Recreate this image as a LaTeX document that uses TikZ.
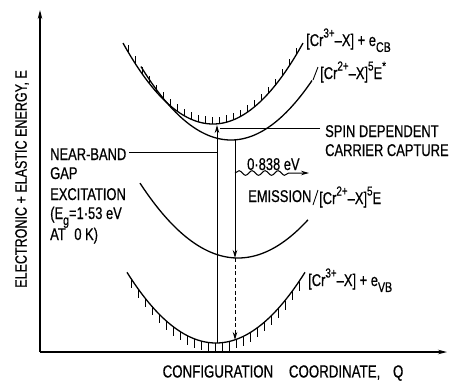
\documentclass[tikz,border=0pt]{standalone}
\usepackage{fontspec}
\setmainfont{Liberation Sans}[FakeStretch=0.76,FakeBold=0.6]
\usetikzlibrary{arrows.meta,decorations.pathmorphing}
\newcommand\supx[1]{\raisebox{0.5em}{\fontsize{13}{13}\selectfont #1}}
\newcommand\subx[1]{\raisebox{-0.35em}{\fontsize{14}{14}\selectfont #1}}
\begin{document}
\begin{tikzpicture}[x=1pt,y=-1pt,
  curve/.style={line width=1.3pt},
  hatch/.style={line width=0.9pt},
  lbl/.style={inner sep=0pt,font=\fontsize{17}{17}\selectfont,anchor=base west},
  arr/.style={-{Stealth[length=8pt,width=4.5pt]},line width=1pt},
  axis/.style={-{Stealth[length=9pt,width=4.5pt]},line width=1.1pt}]
\useasboundingbox (0,0) rectangle (449,384);
% axes
\coordinate (O) at (40,352);
\coordinate (ytop) at (40,10);
\coordinate (xend) at (447,352);
\draw[axis] (O) -- (ytop);
\draw[axis] (O) -- (xend);
\node[rotate=90,inner sep=0pt,font=\fontsize{16.5}{16.5}\selectfont] (ylab) at (22,179) {ELECTRONIC + ELASTIC ENERGY, E};
\node[inner sep=0pt,font=\fontsize{17.5}{17.5}\selectfont] (xlab) at (283,373) {CONFIGURATION\hspace{12pt} COORDINATE,\hspace{9pt} Q};
% CB parabola
\draw[curve] plot[domain=123:303,samples=80] (\x,{124-0.01*(\x-213)^2});
\foreach \x in {128,135,...,300} \draw[hatch] (\x,{124-0.01*(\x-213)^2}) -- ++(0,-7);
% 5E* parabola
\draw[curve] plot[domain=141:312,samples=80] (\x,{140-0.00907*(\x-231)^2});
\draw[hatch] (313,80) -- (318,67);
% 5E parabola
\draw[curve] plot[domain=140:308,samples=80] (\x,{258-0.0078*(\x-238)^2});
\draw[hatch] (313,205) -- (318,190);
% VB parabola
\draw[curve] plot[domain=127:305,samples=80] (\x,{343-0.00893*(\x-216)^2});
\foreach \x in {131,138,...,300} \draw[hatch] (\x,{343-0.00893*(\x-216)^2}) -- ++(0,9);
% transitions
\coordinate (vbmin) at (217,343);
\coordinate (cbmin) at (217,125);
\coordinate (estar) at (235,140);
\coordinate (emin) at (235,258);
\coordinate (vbhit) at (235,340);
\draw[arr] (vbmin) -- (cbmin);
\draw[arr] (estar) -- (emin);
\draw[arr,dashed,dash pattern=on 4pt off 2.5pt] (emin) -- (vbhit);
% emission wave
\coordinate (w0) at (235,173);
\coordinate (w1) at (309,173);
\draw[arr,decorate,decoration={snake,amplitude=2.3pt,segment length=13pt,post length=16pt}] (w0) -- (w1);
% labels
\node[lbl] (cb) at (306,46) {[Cr\supx{3+}--X] + e\subx{CB}};
\node[lbl] (es) at (320,79) {[Cr\supx{2+}--X]\supx{5}E\supx{*}};
\node[lbl] (e5) at (319,204) {[Cr\supx{2+}--X]\supx{5}E};
\node[lbl] (vb) at (308,286) {[Cr\supx{3+}--X] + e\subx{VB}};
\node[lbl] (spin) at (325,137) {SPIN DEPENDENT};
\node[lbl] (carr) at (325,156) {CARRIER CAPTURE};
\node[lbl] (en) at (247,170) {0·838 eV};
\node[lbl] (emis) at (248,202) {EMISSION};
\node[lbl] (nb) at (50,160) {NEAR-BAND};
\node[lbl] (gap) at (50,179) {GAP};
\node[lbl] (exc) at (50,200) {EXCITATION};
\node[lbl] (eg) at (50,219) {(E\subx{g}=1·53 eV};
\node[lbl] (at) at (50,240) {AT\hspace{5pt} 0 K)};
% leaders
\coordinate (spinend) at (220,128);
\coordinate (nbend) at (217,152);
\draw[hatch] (spin.west |- spinend) ++(-5,0) -- (spinend);
\draw[hatch] (nb.east |- nbend) ++(3,0) -- (nbend);
\end{tikzpicture}
\end{document}
